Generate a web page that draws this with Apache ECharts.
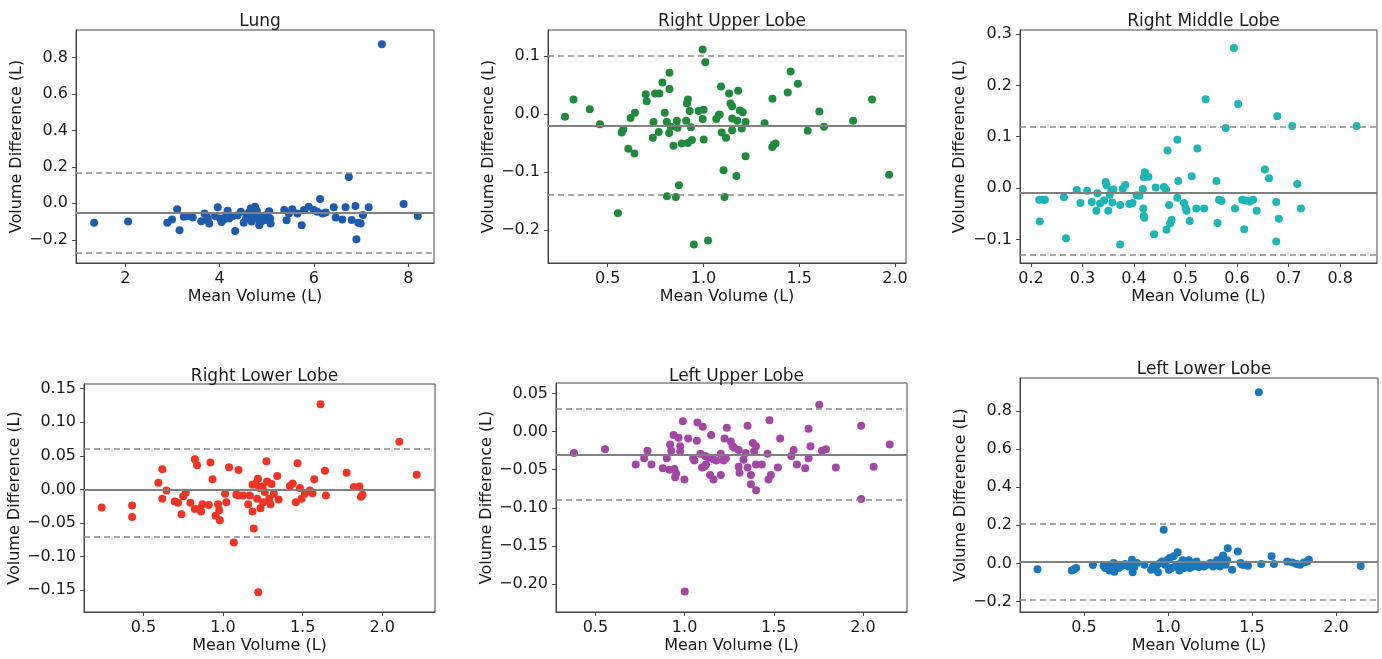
<!DOCTYPE html>
<html><head><meta charset="utf-8">
<script src="https://cdn.jsdelivr.net/npm/echarts@6/dist/echarts.min.js"></script>
<style>html,body{margin:0;padding:0;background:#fff}#c{width:1382px;height:659px}</style>
</head><body><div id="c"></div><script>
// ---------------- DATA ----------------
const titles = ['Lung', 'Right Upper Lobe', 'Right Middle Lobe', 'Right Lower Lobe', 'Left Upper Lobe', 'Left Lower Lobe'];
const xName = 'Mean Volume (L)';
const yName = 'Volume Difference (L)';

const lungPts = [[1.34,-0.106],[2.06,-0.10],[2.89,-0.106],[2.99,-0.089],[3.10,-0.033],[3.15,-0.148],[3.24,-0.074],[3.32,-0.07],[3.43,-0.078],[3.61,-0.098],[3.68,-0.056],[3.73,-0.074],[3.78,-0.111],[3.75,-0.093],[3.96,-0.022],[4.01,-0.083],[4.04,-0.102],[4.13,-0.074],[4.17,-0.041],[4.20,-0.083],[4.33,-0.152],[4.38,-0.065],[4.45,-0.046],[4.51,-0.107],[4.56,-0.083],[4.59,-0.065],[4.66,-0.028],[4.70,-0.074],[4.75,-0.019],[4.79,-0.041],[4.80,-0.083],[4.84,-0.12],[4.87,-0.102],[4.94,-0.093],[4.98,-0.065],[5.05,-0.043],[5.07,-0.083],[5.08,-0.111],[4.62,-0.05],[4.72,-0.06],[4.90,-0.07],[5.02,-0.09],[3.90,-0.07],[4.08,-0.09],[4.28,-0.07],[4.68,-0.10],[5.37,-0.037],[5.42,-0.093],[5.47,-0.056],[5.54,-0.033],[5.65,-0.056],[5.74,-0.12],[5.79,-0.037],[5.89,-0.019],[6.0,-0.037],[6.07,-0.046],[6.13,0.024],[6.18,-0.056],[6.25,-0.05],[6.42,-0.022],[6.46,-0.077],[6.60,-0.088],[6.67,-0.022],[6.74,0.144],[6.80,-0.091],[6.88,-0.015],[6.90,-0.197],[6.94,-0.106],[6.99,-0.11],[7.04,-0.064],[7.16,-0.022],[7.44,0.872],[7.90,-0.004],[8.20,-0.07]];
const lungLines = [-0.048, 0.17, -0.269];

const rulPts = [[0.278,-0.005],[0.322,0.025],[0.407,0.008],[0.46,-0.018],[0.554,-0.171],[0.573,-0.032],[0.582,-0.027],[0.608,-0.06],[0.62,-0.007],[0.64,-0.068],[0.643,0.002],[0.699,0.034],[0.704,0.022],[0.739,-0.014],[0.736,-0.041],[0.748,0.035],[0.77,0.035],[0.767,-0.031],[0.786,0.054],[0.798,0.002],[0.809,-0.014],[0.81,-0.142],[0.823,0.071],[0.823,0.043],[0.821,-0.033],[0.83,-0.022],[0.844,-0.055],[0.856,-0.143],[0.861,-0.012],[0.865,-0.024],[0.872,-0.123],[0.887,-0.051],[0.91,-0.012],[0.914,0.018],[0.919,0.025],[0.919,-0.05],[0.928,0.005],[0.935,-0.023],[0.94,-0.045],[0.95,-0.225],[0.975,0.005],[0.996,0.111],[0.996,-0.009],[1.001,0.007],[1.001,-0.044],[1.01,0.089],[1.024,-0.218],[1.067,-0.009],[1.08,-0.002],[1.085,-0.001],[1.092,0.047],[1.095,-0.032],[1.105,-0.097],[1.11,-0.143],[1.118,-0.041],[1.134,0.035],[1.141,0.018],[1.15,0.013],[1.15,-0.008],[1.15,-0.028],[1.172,-0.107],[1.176,-0.012],[1.181,0.04],[1.19,0.006],[1.2,-0.025],[1.205,0.003],[1.22,-0.014],[1.22,-0.073],[1.319,-0.016],[1.359,-0.057],[1.367,-0.053],[1.376,-0.051],[1.36,0.026],[1.44,0.037],[1.455,0.073],[1.493,0.052],[1.544,-0.029],[1.605,0.004],[1.629,-0.022],[1.781,-0.012],[1.88,0.025],[1.969,-0.105]];
const rulLines = [-0.0184, 0.098, -0.137];

const rmlPts = [[0.216,-0.023],[0.223,-0.023],[0.227,-0.023],[0.217,-0.065],[0.264,-0.018],[0.268,-0.098],[0.289,-0.004],[0.296,-0.029],[0.309,-0.005],[0.318,-0.027],[0.327,-0.044],[0.329,-0.01],[0.334,-0.03],[0.342,-0.024],[0.345,0.012],[0.347,0.005],[0.35,-0.044],[0.353,-0.013],[0.356,-0.005],[0.358,-0.028],[0.36,-0.003],[0.373,-0.033],[0.373,-0.11],[0.378,-0.002],[0.383,0.006],[0.391,-0.031],[0.397,-0.029],[0.405,-0.014],[0.41,-0.015],[0.417,-0.002],[0.418,-0.04],[0.419,-0.054],[0.42,-0.058],[0.421,0.031],[0.419,0.021],[0.428,0.022],[0.439,-0.09],[0.442,0.001],[0.458,0.002],[0.462,-0.003],[0.463,-0.081],[0.465,0.073],[0.468,-0.033],[0.47,-0.069],[0.473,-0.062],[0.484,-0.019],[0.484,0.094],[0.486,0.014],[0.497,-0.029],[0.5,-0.039],[0.502,-0.044],[0.508,-0.064],[0.512,0.023],[0.521,-0.04],[0.523,0.077],[0.536,-0.04],[0.539,0.173],[0.56,0.014],[0.562,-0.068],[0.565,-0.023],[0.57,-0.025],[0.578,0.117],[0.594,0.273],[0.596,-0.04],[0.602,0.164],[0.61,-0.023],[0.614,-0.08],[0.617,-0.024],[0.625,-0.026],[0.631,-0.023],[0.638,-0.044],[0.654,0.036],[0.662,0.019],[0.676,-0.027],[0.676,-0.104],[0.678,0.14],[0.681,-0.06],[0.707,0.121],[0.717,0.008],[0.724,-0.04],[0.832,0.121]];
const rmlLines = [-0.007, 0.118, -0.13];

const rllPts = [[0.238,-0.027],[0.429,-0.024],[0.429,-0.041],[0.594,0.010],[0.619,0.030],[0.619,-0.014],[0.645,-0.0015],[0.697,-0.018],[0.718,-0.02],[0.739,-0.037],[0.75,-0.010],[0.766,-0.005],[0.795,-0.02],[0.823,0.045],[0.823,-0.029],[0.837,0.036],[0.85,-0.029],[0.862,-0.033],[0.871,-0.022],[0.911,-0.023],[0.921,0.040],[0.934,0.015],[0.953,-0.039],[0.969,-0.022],[0.976,-0.031],[0.98,-0.046],[1.013,-0.0065],[1.021,-0.019],[1.038,0.033],[1.068,-0.079],[1.083,-0.008],[1.097,0.029],[1.101,-0.009],[1.126,-0.009],[1.158,-0.022],[1.168,-0.009],[1.185,0.007],[1.185,-0.033],[1.193,-0.058],[1.206,0.009],[1.214,-0.014],[1.219,0.016],[1.221,-0.153],[1.227,0.002],[1.235,-0.028],[1.248,0.0045],[1.252,-0.019],[1.262,-0.004],[1.273,0.042],[1.277,0.012],[1.29,-0.014],[1.298,-0.022],[1.305,0.008],[1.319,-0.0065],[1.34,0.02],[1.349,-0.015],[1.42,0.005],[1.437,0.009],[1.457,-0.019],[1.468,0.039],[1.483,0.002],[1.493,-0.014],[1.514,-0.0065],[1.545,-0.0015],[1.562,-0.0055],[1.573,0.015],[1.612,0.127],[1.64,0.028],[1.646,-0.009],[1.776,0.025],[1.822,0.0035],[1.856,0.0045],[1.866,-0.011],[1.876,-0.008],[2.107,0.071],[2.216,0.022]];
const rllLines = [-0.004, 0.059, -0.0675];

const lulPts = [[0.38,-0.028],[0.554,-0.023],[0.726,-0.043],[0.773,-0.035],[0.792,-0.025],[0.814,-0.043],[0.878,-0.048],[0.9,-0.035],[0.915,-0.05],[0.919,-0.017],[0.925,-0.025],[0.938,-0.0044],[0.943,-0.049],[0.947,-0.06],[0.953,-0.055],[0.966,-0.008],[0.975,-0.019],[0.975,-0.026],[0.99,0.0136],[0.999,-0.063],[1.001,-0.21],[1.02,-0.0088],[1.048,-0.035],[1.055,-0.038],[1.069,-0.012],[1.072,0.012],[1.089,-0.029],[1.098,-0.047],[1.102,0.0066],[1.11,-0.046],[1.115,-0.032],[1.12,-0.043],[1.134,-0.034],[1.143,-0.057],[1.149,-0.0044],[1.158,-0.036],[1.162,-0.063],[1.177,-0.038],[1.203,-0.029],[1.203,-0.057],[1.218,-0.038],[1.224,-0.0088],[1.231,-0.035],[1.237,0.0053],[1.259,-0.013],[1.269,-0.019],[1.278,-0.021],[1.303,-0.024],[1.303,-0.046],[1.308,-0.054],[1.33,-0.037],[1.343,-0.028],[1.353,0.0079],[1.353,-0.047],[1.372,-0.057],[1.372,-0.069],[1.383,-0.015],[1.39,-0.026],[1.4,-0.019],[1.4,-0.043],[1.401,-0.077],[1.433,-0.043],[1.465,-0.029],[1.47,-0.063],[1.476,0.015],[1.484,-0.057],[1.523,-0.047],[1.536,-0.0088],[1.598,-0.032],[1.611,-0.024],[1.63,-0.043],[1.676,-0.048],[1.695,0.0039],[1.695,-0.035],[1.706,-0.019],[1.755,0.0355],[1.77,-0.025],[1.792,-0.023],[1.848,-0.047],[1.99,0.0079],[1.99,-0.0886],[2.06,-0.046],[2.15,-0.017]];
const lulLines = [-0.0325, 0.0259, -0.0904];

const lllPts = [[0.224,-0.031],[0.428,-0.037],[0.442,-0.03],[0.454,-0.024],[0.554,-0.009],[0.617,-0.012],[0.627,-0.024],[0.641,-0.016],[0.653,-0.037],[0.661,-0.007],[0.667,-0.024],[0.677,0.002],[0.681,-0.044],[0.687,-0.016],[0.697,-0.007],[0.707,-0.024],[0.727,-0.012],[0.746,-0.003],[0.766,-0.016],[0.78,-0.007],[0.786,0.019],[0.79,-0.047],[0.8,-0.019],[0.816,0.002],[0.86,-0.007],[0.9,-0.033],[0.911,-0.016],[0.925,-0.024],[0.935,-0.007],[0.941,-0.047],[0.955,0.002],[0.965,0.01],[0.975,0.176],[0.985,-0.007],[0.995,0.016],[1.005,-0.033],[1.011,0.028],[1.021,-0.024],[1.034,0.037],[1.044,-0.016],[1.058,0.059],[1.068,-0.037],[1.078,0.002],[1.088,0.016],[1.098,-0.024],[1.11,-0.007],[1.124,0.016],[1.13,-0.024],[1.144,0.002],[1.154,-0.016],[1.17,0.01],[1.184,-0.019],[1.198,-0.007],[1.213,-0.016],[1.233,-0.007],[1.253,0.002],[1.269,-0.016],[1.283,0.002],[1.293,0.016],[1.309,-0.016],[1.323,0.028],[1.329,0.042],[1.343,-0.007],[1.352,0.016],[1.356,0.08],[1.382,-0.033],[1.416,0.063],[1.432,0.002],[1.442,-0.007],[1.462,-0.007],[1.476,-0.012],[1.541,0.898],[1.555,-0.003],[1.617,0.037],[1.631,-0.003],[1.71,0.01],[1.74,0.005],[1.766,-0.003],[1.786,-0.007],[1.809,0.005],[1.829,0.01],[1.839,0.019],[2.147,-0.014]];
const lllLines = [0.012, 0.213, -0.19];

// tick values
const lungXTicks = [2, 4, 6, 8];
const lungYTicks = [-0.2, 0.0, 0.2, 0.4, 0.6, 0.8];
const rulXTicks = [0.5, 1.0, 1.5, 2.0];
const rulYTicks = [-0.2, -0.1, 0.0, 0.1];
const rmlXTicks = [0.2, 0.3, 0.4, 0.5, 0.6, 0.7, 0.8];
const rmlYTicks = [-0.1, 0.0, 0.1, 0.2, 0.3];
const rllXTicks = [0.5, 1.0, 1.5, 2.0];
const rllYTicks = [-0.15, -0.10, -0.05, 0.00, 0.05, 0.10, 0.15];
const lulXTicks = [0.5, 1.0, 1.5, 2.0];
const lulYTicks = [-0.20, -0.15, -0.10, -0.05, 0.00, 0.05];
const lllXTicks = [0.5, 1.0, 1.5, 2.0];
const lllYTicks = [-0.2, 0.0, 0.2, 0.4, 0.6, 0.8];

// ---------------- LAYOUT / STYLE ----------------
const FONT = 'DejaVu Sans';
const TXT = '#1a1a1a';
const panels = [
  {pts: lungPts, lines: lungLines, xt: lungXTicks, yt: lungYTicks, xd: 0, yd: 1, color: '#1f5bad',
   xr: [0.955, 8.545], yr: [-0.327, 0.95], g: {left: 76, top: 30, width: 358, height: 233}, ng: 50, tt: 8},
  {pts: rulPts, lines: rulLines, xt: rulXTicks, yt: rulYTicks, xd: 1, yd: 1, color: '#1f8a3c',
   xr: [0.189, 2.057], yr: [-0.2568, 0.1445], g: {left: 548, top: 30, width: 358, height: 233}, ng: 50, tt: 8},
  {pts: rmlPts, lines: rmlLines, xt: rmlXTicks, yt: rmlYTicks, xd: 1, yd: 1, color: '#1db5b5',
   xr: [0.1787, 0.8716], yr: [-0.146, 0.308], g: {left: 1020, top: 30, width: 357, height: 233}, ng: 52, tt: 8},
  {pts: rllPts, lines: rllLines, xt: rllXTicks, yt: rllYTicks, xd: 1, yd: 2, color: '#ee3424',
   xr: [0.127, 2.331], yr: [-0.1825, 0.157], g: {left: 84, top: 384, width: 351, height: 228}, ng: 58, tt: 363},
  {pts: lulPts, lines: lulLines, xt: lulXTicks, yt: lulYTicks, xd: 1, yd: 2, color: '#a347a5',
   xr: [0.279, 2.247], yr: [-0.237, 0.064], g: {left: 556, top: 383, width: 351, height: 229}, ng: 59, tt: 363},
  {pts: lllPts, lines: lllLines, xt: lllXTicks, yt: lllYTicks, xd: 1, yd: 1, color: '#1878bb',
   xr: [0.12, 2.25], yr: [-0.255, 0.973], g: {left: 1020, top: 378, width: 358, height: 234}, ng: 51, tt: 356}
];

const fmt = d => v => Number(v).toFixed(d).replace('-', '\u2212');

const option = {
  animation: false,
  backgroundColor: '#fff',
  textStyle: {fontFamily: FONT},
  title: panels.map((p, i) => ({
    text: titles[i], left: p.g.left + p.g.width / 2, top: p.tt, textAlign: 'center',
    textStyle: {fontFamily: FONT, fontSize: 17, fontWeight: 'normal', color: TXT}
  })),
  grid: panels.map(p => Object.assign({show: true, borderColor: '#444', borderWidth: 1, backgroundColor: '#fff'}, p.g)),
  xAxis: panels.map((p, i) => ({
    type: 'value', gridIndex: i, min: p.xr[0], max: p.xr[1],
    name: xName, nameLocation: 'middle', nameGap: 26,
    nameTextStyle: {fontFamily: FONT, fontSize: 16, color: TXT},
    axisLine: {show: true, onZero: false, lineStyle: {color: '#444', width: 1}},
    axisTick: {show: true, length: 4, customValues: p.xt, lineStyle: {color: '#444'}},
    axisLabel: {show: true, customValues: p.xt, formatter: fmt(p.xd), margin: 8, fontFamily: FONT, fontSize: 16, color: TXT},
    splitLine: {show: false}
  })),
  yAxis: panels.map((p, i) => ({
    type: 'value', gridIndex: i, min: p.yr[0], max: p.yr[1],
    name: yName, nameLocation: 'middle', nameGap: p.ng, nameRotate: 90,
    nameTextStyle: {fontFamily: FONT, fontSize: 16, color: TXT},
    axisLine: {show: true, onZero: false, lineStyle: {color: '#444', width: 1}},
    axisTick: {show: true, length: 4, customValues: p.yt, lineStyle: {color: '#444'}},
    axisLabel: {show: true, customValues: p.yt, formatter: fmt(p.yd), margin: 8, fontFamily: FONT, fontSize: 16, color: TXT},
    splitLine: {show: false}
  })),
  series: panels.map((p, i) => ({
    type: 'scatter', xAxisIndex: i, yAxisIndex: i, data: p.pts,
    symbolSize: 8, itemStyle: {color: p.color, opacity: 1},
    markLine: {
      silent: true, symbol: 'none', label: {show: false}, animation: false,
      data: [
        {yAxis: p.lines[0], lineStyle: {color: '#808080', width: 2, type: 'solid'}},
        {yAxis: p.lines[1], lineStyle: {color: '#8a8a8a', width: 1.6, type: [6, 4]}},
        {yAxis: p.lines[2], lineStyle: {color: '#8a8a8a', width: 1.6, type: [6, 4]}}
      ]
    }
  }))
};

const chart = echarts.init(document.getElementById('c'), null, {renderer: 'canvas'});
chart.setOption(option);
</script></body></html>
